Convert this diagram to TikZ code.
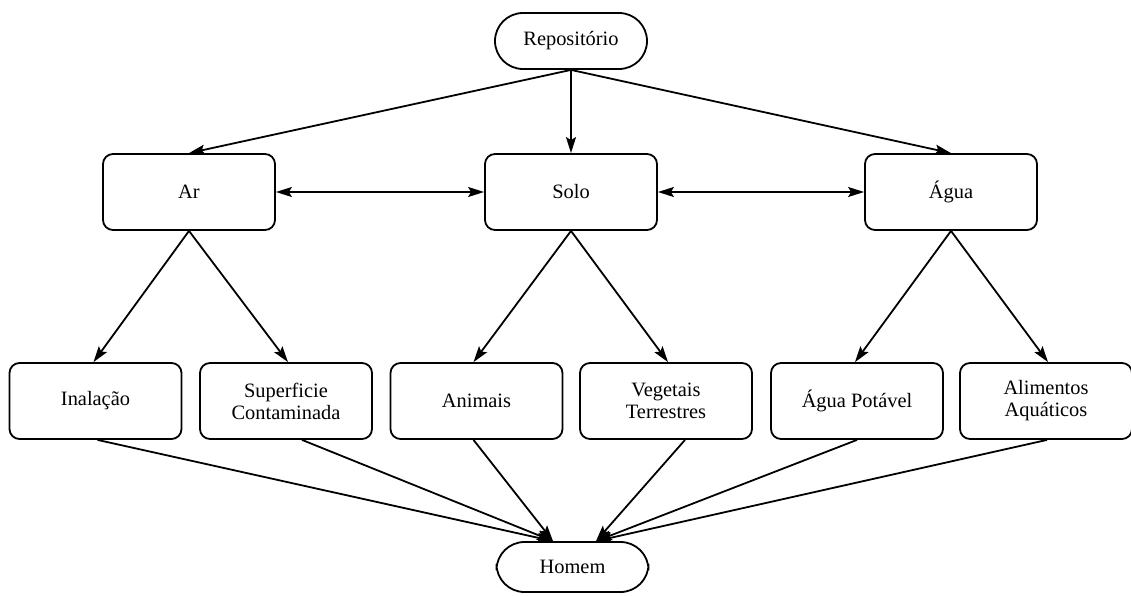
\documentclass[tikz,border=0pt]{standalone}
\usepackage{fontspec}
\setmainfont{Liberation Serif}
\usetikzlibrary{arrows.meta,calc}
\begin{document}
\begin{tikzpicture}[x=0.5pt,y=-0.5pt,
  every node/.style={font=\fontsize{10.2}{11}\selectfont},
  box/.style={draw,line width=0.9pt,rounded corners=5pt,minimum width=86pt,minimum height=38pt,inner sep=0pt,align=center},
  term/.style={draw,line width=0.9pt,rounded corners=14pt,minimum width=76pt,minimum height=27pt,inner sep=0pt},
  arr/.style={line width=0.9pt,-{Stealth[length=8pt,width=5pt,inset=1.5pt]}},
  darr/.style={line width=0.9pt,{Stealth[length=8pt,width=5pt,inset=1.5pt]}-{Stealth[length=8pt,width=5pt,inset=1.5pt]}}]
\useasboundingbox (0,0) rectangle (1131,595);
\node[term,minimum height=28pt] (rep) at (571,41) {Repositório};
\node[box] (ar) at (189,192) {Ar};
\node[box] (solo) at (571,192) {Solo};
\node[box] (agua) at (951,192) {Água};
\node[box] (inal) at (95.5,401) {Inalação};
\node[box] (sup) at (286,401) {Superficie\\Contaminada};
\node[box] (anim) at (476.5,401) {Animais};
\node[box] (veg) at (666,401) {Vegetais\\Terrestres};
\node[box] (pot) at (857,401) {Água Potável};
\node[box] (alim) at (1046,401) {Alimentos\\Aquáticos};
\node[term,minimum height=25pt] (hom) at (572.5,567) {Homem};
% from repository
\draw[arr] (rep.south) -- (ar.north);
\draw[arr] (rep.south) -- (solo.north);
\draw[arr] (rep.south) -- (agua.north);
% horizontal
\draw[darr] (ar.east) -- (solo.west);
\draw[darr] (solo.east) -- (agua.west);
% middle to bottom
\draw[arr] (ar.south) -- ($(inal.north)+(-2,0)$);
\draw[arr] (ar.south) -- ($(sup.north)+(2,0)$);
\draw[arr] (solo.south) -- ($(anim.north)+(-3,0)$);
\draw[arr] (solo.south) -- ($(veg.north)+(2,0)$);
\draw[arr] (agua.south) -- ($(pot.north)+(-2,0)$);
\draw[arr] (agua.south) -- ($(alim.north)+(2,0)$);
% to homem
\coordinate (hl) at ($(hom.north)+(-19.5,0)$);
\coordinate (hr) at ($(hom.north)+(23.5,0)$);
\draw[arr] ($(inal.south)+(2,0)$) -- (hl);
\draw[arr] ($(sup.south)+(16,0)$) -- (hl);
\draw[arr] ($(anim.south)+(-3,0)$) -- (hl);
\draw[arr] ($(veg.south)+(19,0)$) -- (hr);
\draw[arr] (pot.south) -- (hr);
\draw[arr] ($(alim.south)+(1,0)$) -- (hr);
\end{tikzpicture}
\end{document}
